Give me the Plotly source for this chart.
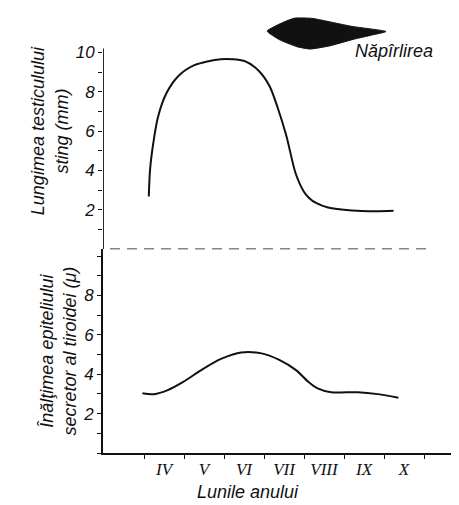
import plotly.graph_objects as go

# ---- data (de-rotated scan) ----
month_labels = ["IV", "V", "VI", "VII", "VIII", "IX", "X"]
month_pos = [4, 5, 6, 7, 8, 9, 10]
month_bounds = [3.5, 4.5, 5.5, 6.5, 7.5, 8.5, 9.5, 10.5]

# Lungimea testiculului sting (mm)
testis_x = [3.62, 3.65, 3.73, 3.85, 4.06, 4.36, 4.76, 5.42, 6.01, 6.36,
            6.64, 6.84, 7.06, 7.29, 7.49, 7.62, 7.80, 8.10, 8.70, 9.28, 9.74]
testis_y = [2.68, 4.01, 5.36, 6.72, 7.92, 8.80, 9.35, 9.65, 9.56, 9.08,
            8.28, 7.20, 5.75, 3.86, 2.95, 2.62, 2.35, 2.12, 1.97, 1.93, 1.95]

# Inaltimea epiteliului secretor al tiroidei (micron)
thyroid_x = [3.46, 3.75, 4.08, 4.48, 4.96, 5.44, 5.93, 6.44, 6.87, 7.30,
             7.62, 7.84, 8.18, 8.85, 9.35, 9.86]
thyroid_y = [3.04, 2.99, 3.18, 3.61, 4.25, 4.79, 5.11, 5.06, 4.74, 4.21,
             3.59, 3.28, 3.08, 3.09, 2.99, 2.81]

# moulting period marker (filled lens shape)
molt_x = [6.58, 6.94, 7.27, 7.69, 8.10, 8.70, 9.55, 9.22, 8.73, 8.14, 7.65, 7.32, 6.88, 6.58]
molt_y = [11.08, 11.49, 11.74, 11.73, 11.57, 11.32, 11.06, 10.89, 10.66, 10.33, 10.17, 10.29, 10.65, 11.08]
molt_label = "Năpîrlirea"
molt_label_pos = (9.75, 10.05)

top_ticks = list(range(1, 11))
top_ticktext = [str(v) if v % 2 == 0 else "" for v in top_ticks]
bot_ticks = list(range(0, 11))
bot_ticktext = [str(v) if (v % 2 == 0 and 0 < v < 10) else "" for v in bot_ticks]

X_RANGE = [2.475, 11.4]
TOP_RANGE = [0, 12.0]
BOT_RANGE = [0, 10.35]
split = 10.35 / (10.35 + 12.0)

INK = "#111111"
FONT = "Liberation Sans"

fig = go.Figure()

fig.add_trace(go.Scatter(x=thyroid_x, y=thyroid_y, mode="lines",
                         line=dict(color=INK, width=2, shape="spline", smoothing=0.8),
                         xaxis="x", yaxis="y", showlegend=False, hoverinfo="skip"))
fig.add_trace(go.Scatter(x=testis_x, y=testis_y, mode="lines",
                         line=dict(color=INK, width=2, shape="spline", smoothing=0.8),
                         xaxis="x2", yaxis="y2", showlegend=False, hoverinfo="skip"))
fig.add_trace(go.Scatter(x=molt_x, y=molt_y, mode="lines", fill="toself",
                         fillcolor=INK, line=dict(color=INK, width=1, shape="spline", smoothing=0.5),
                         xaxis="x2", yaxis="y2", showlegend=False, hoverinfo="skip"))

# top-panel vertical axis line (only up to just above 10)
fig.add_shape(type="line", xref="x2", yref="y2", x0=X_RANGE[0], x1=X_RANGE[0],
              y0=0, y1=10.2, line=dict(color=INK, width=1.8))
# dashed separator line between the panels
fig.add_shape(type="line", xref="x2", yref="y2", x0=2.65, x1=10.6, y0=0, y1=0,
              line=dict(color=INK, width=1.5, dash="10px,7px"))

fig.add_annotation(x=molt_label_pos[0], y=molt_label_pos[1], xref="x2", yref="y2",
                   text=molt_label, showarrow=False,
                   font=dict(family=FONT, size=18, color=INK, style="italic"))
fig.add_annotation(x=6.1, y=0, xref="x", yref="paper", yshift=-27,
                   text="Lunile anului", showarrow=False, yanchor="top",
                   font=dict(family=FONT, size=18, color=INK, style="italic"))

tickfont = dict(family=FONT, size=17, color=INK, style="italic")
titlefont = dict(family=FONT, size=18, color=INK, style="italic")

fig.update_layout(
    width=459, height=505,
    margin=dict(l=95, r=7, t=5, b=60),
    paper_bgcolor="white", plot_bgcolor="white",
    xaxis=dict(domain=[0, 1], range=X_RANGE, anchor="y",
               showline=True, linecolor=INK, linewidth=1.8,
               showgrid=False, zeroline=False,
               tickmode="array", tickvals=month_pos, ticktext=month_labels,
               ticks="", ticklen=0,
               tickfont=dict(family="Liberation Serif", size=17, color=INK, style="italic"),
               minor=dict(tickmode="array", tickvals=month_bounds, ticks="outside",
                          ticklen=4, tickcolor=INK, tickwidth=1.2)),
    xaxis2=dict(domain=[0, 1], range=X_RANGE, anchor="y2", matches="x", visible=False),
    yaxis=dict(domain=[0, split], range=BOT_RANGE, anchor="x",
               showline=True, linecolor=INK, linewidth=1.8,
               showgrid=False, zeroline=False,
               tickmode="array", tickvals=bot_ticks, ticktext=bot_ticktext,
               ticks="outside", ticklen=4, tickcolor=INK, tickwidth=1.2,
               tickfont=tickfont,
               title=dict(text="Înălţimea epiteliului<br>secretor al tiroidei (μ)",
                          font=titlefont, standoff=2)),
    yaxis2=dict(domain=[split, 1], range=TOP_RANGE, anchor="x2",
                showline=False, showgrid=False, zeroline=False,
                tickmode="array", tickvals=top_ticks, ticktext=top_ticktext,
                ticks="outside", ticklen=4, tickcolor=INK, tickwidth=1.2,
                tickfont=tickfont,
                title=dict(text="Lungimea testiculului<br>sting (mm)",
                           font=titlefont, standoff=2)),
)

fig.write_html("out.html")
